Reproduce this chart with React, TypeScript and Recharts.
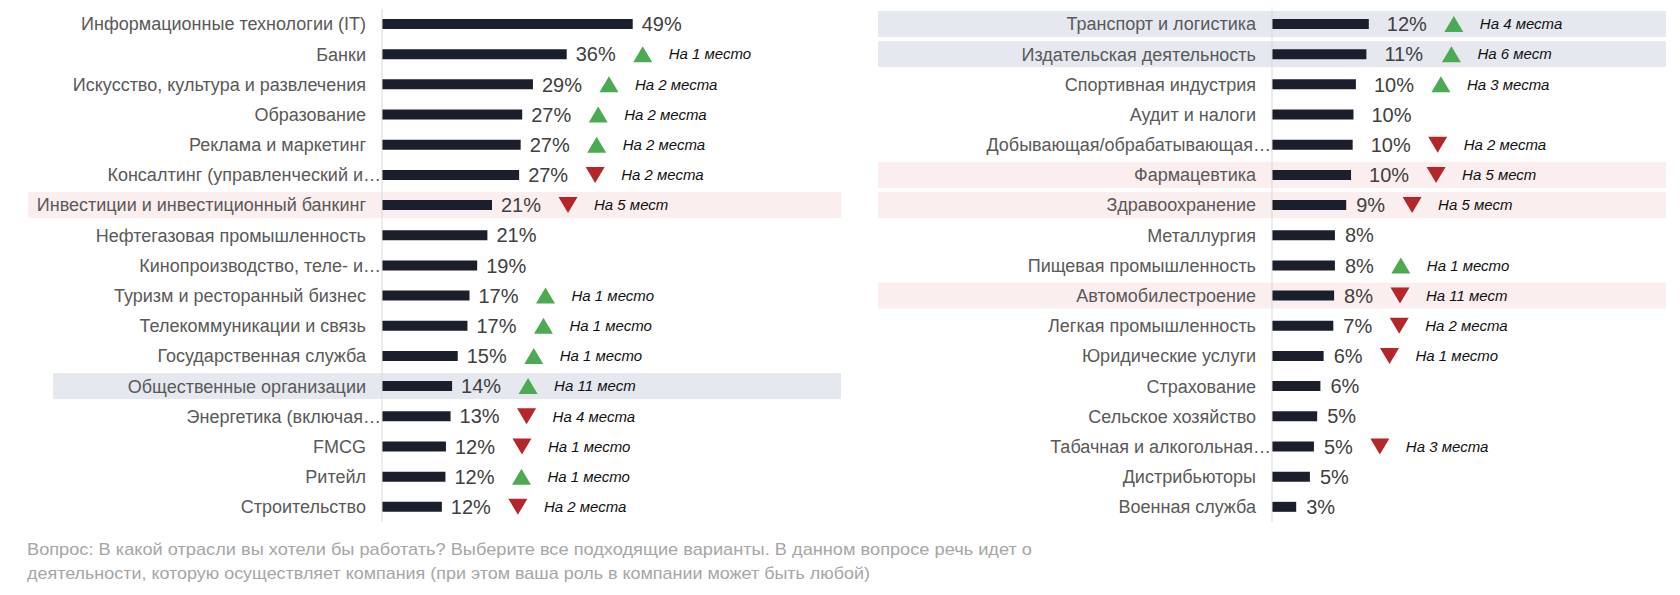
import { Bar, BarChart, LabelList, XAxis, YAxis } from "recharts";

// left column
const leftIndustries = [
  "Информационные технологии (IT)",
  "Банки",
  "Искусство, культура и развлечения",
  "Образование",
  "Реклама и маркетинг",
  "Консалтинг (управленческий и…",
  "Инвестиции и инвестиционный банкинг",
  "Нефтегазовая промышленность",
  "Кинопроизводство, теле- и…",
  "Туризм и ресторанный бизнес",
  "Телекоммуникации и связь",
  "Государственная служба",
  "Общественные организации",
  "Энергетика (включая…",
  "FMCG",
  "Ритейл",
  "Строительство",
];
const leftShares = [49, 36.1, 29.5, 27.4, 27.1, 26.8, 21.5, 20.6, 18.6, 17.1, 16.7, 14.8, 13.7, 13.4, 12.5, 12.4, 11.7];
const leftShown = [49, 36, 29, 27, 27, 27, 21, 21, 19, 17, 17, 15, 14, 13, 12, 12, 12];
const leftMoves = [0, 1, 2, 2, 2, -2, -5, 0, 0, 1, 1, 1, 11, -4, -1, 1, -2];
const leftHighlight = ["", "", "", "", "", "", "pink", "", "", "", "", "", "grey", "", "", "", ""];

// right column
const rightIndustries = [
  "Транспорт и логистика",
  "Издательская деятельность",
  "Спортивная индустрия",
  "Аудит и налоги",
  "Добывающая/обрабатывающая…",
  "Фармацевтика",
  "Здравоохранение",
  "Металлургия",
  "Пищевая промышленность",
  "Автомобилестроение",
  "Легкая промышленность",
  "Юридические услуги",
  "Страхование",
  "Сельское хозяйство",
  "Табачная и алкогольная…",
  "Дистрибьюторы",
  "Военная служба",
];
const rightShares = [12.0, 11.7, 10.4, 10.1, 10.0, 9.8, 9.2, 7.8, 7.8, 7.7, 7.6, 6.4, 6.0, 5.6, 5.2, 4.7, 3.0];
const rightShown = [12, 11, 10, 10, 10, 10, 9, 8, 8, 8, 7, 6, 6, 5, 5, 5, 3];
const rightMoves = [4, 6, 3, 0, -2, -5, -5, 0, 1, -11, -2, -1, 0, 0, -3, 0, 0];
const rightHighlight = ["grey", "grey", "", "", "", "pink", "pink", "", "", "pink", "", "", "", "", "", "", ""];

const footnote = [
  "Вопрос: В какой отрасли вы хотели бы работать? Выберите все подходящие варианты. В данном вопросе речь идет о",
  "деятельности, которую осуществляет компания (при этом ваша роль в компании может быть любой)",
];

const FONT = '"Liberation Sans", Arial, Helvetica, sans-serif';
const BAND_FILL: Record<string, string> = { pink: "#fbeeee", grey: "#e5e8ef" };

function placesText(n: number) {
  const a = Math.abs(n);
  const d = a % 10;
  const t = a % 100;
  let word = "мест";
  if (d === 1 && t !== 11) word = "место";
  else if (d >= 2 && d <= 4 && (t < 10 || t >= 20)) word = "места";
  return `На ${a} ${word}`;
}

type Panel = {
  names: string[];
  shares: number[];
  shown: number[];
  moves: number[];
  highlight: string[];
  width: number;
  axisWidth: number;
  plotWidth: number;
  domainMax: number;
  bandStart: Record<string, number>;
  bandEnd: number;
  wideGap: number;
  narrowGap: number;
};

function IndustryPanel({ p }: { p: Panel }) {
  const rows = p.names.map((name, i) => ({ name, share: p.shares[i], i }));

  const tick = (props: any) => {
    const label: string = props.payload.value;
    const cut = label.endsWith("…");
    return (
      <text
        x={cut ? p.axisWidth - 1 : p.axisWidth - 16}
        y={props.y}
        dy="0.35em"
        textAnchor="end"
        fontSize={18}
        fontFamily={FONT}
        fill="#595959"
      >
        {label}
      </text>
    );
  };

  const background = (props: any) => {
    const kind = p.highlight[props.index];
    if (!kind) return <g key={`bg-${props.index}`} />;
    const x0 = p.bandStart[kind];
    return (
      <rect
        key={`bg-${props.index}`}
        x={x0}
        y={props.y + (props.height - 26) / 2}
        width={p.bandEnd - x0}
        height={26}
        fill={BAND_FILL[kind]}
      />
    );
  };

  const annotation = (props: any) => {
    const i = Number(props.value);
    const cy = props.y + props.height / 2;
    const end = props.x + props.width;
    const shown = p.shown[i];
    const tx = end + (shown >= 10 ? p.wideGap : p.narrowGap);
    const tw = String(shown).length * 11.12 + 17.78;
    const move = p.moves[i];
    const cx = tx + tw + 27;
    return (
      <g key={`lab-${i}`}>
        <text x={tx} y={cy} dy="0.36em" fontSize={20} fontFamily={FONT} fill="#404040">
          {`${shown}%`}
        </text>
        {move !== 0 && (
          <>
            <polygon
              points={
                move > 0
                  ? `${cx - 9.5},${cy + 8} ${cx + 9.5},${cy + 8} ${cx},${cy - 8}`
                  : `${cx - 9.5},${cy - 8} ${cx + 9.5},${cy - 8} ${cx},${cy + 8}`
              }
              fill={move > 0 ? "#4cab52" : "#b3262a"}
            />
            <text
              x={cx + 26}
              y={cy}
              dy="0.35em"
              fontSize={15}
              fontStyle="italic"
              fontFamily={FONT}
              fill="#111"
            >
              {placesText(move)}
            </text>
          </>
        )}
      </g>
    );
  };

  return (
    <BarChart
      width={p.width}
      height={526}
      data={rows}
      layout="vertical"
      barCategoryGap={0}
      margin={{ top: 9, right: p.width - p.axisWidth - p.plotWidth, bottom: 4, left: 0 }}
    >
      <XAxis type="number" domain={[0, p.domainMax]} hide />
      <YAxis
        type="category"
        dataKey="name"
        width={p.axisWidth}
        interval={0}
        tickLine={false}
        axisLine={{ stroke: "#d9d9d9" }}
        tick={tick}
      />
      <Bar dataKey="share" barSize={10} fill="#1b1f2b" background={background} isAnimationActive={false}>
        <LabelList dataKey="i" content={annotation} />
      </Bar>
    </BarChart>
  );
}

const leftPanel: Panel = {
  names: leftIndustries,
  shares: leftShares,
  shown: leftShown,
  moves: leftMoves,
  highlight: leftHighlight,
  width: 860,
  axisWidth: 382,
  plotWidth: 307,
  domainMax: 60,
  bandStart: { pink: 28, grey: 53 },
  bandEnd: 841,
  wideGap: 9,
  narrowGap: 9,
};

const rightPanel: Panel = {
  names: rightIndustries,
  shares: rightShares,
  shown: rightShown,
  moves: rightMoves,
  highlight: rightHighlight,
  width: 820,
  axisWidth: 412,
  plotWidth: 242,
  domainMax: 30,
  bandStart: { pink: 18, grey: 18 },
  bandEnd: 806,
  wideGap: 18,
  narrowGap: 10,
};

export default function App() {
  return (
    <div style={{ position: "relative", width: 1680, height: 595, background: "#fff", overflow: "hidden" }}>
      <style>{"body{margin:0}"}</style>
      <div style={{ position: "absolute", left: 0, top: 0 }}>
        <IndustryPanel p={leftPanel} />
      </div>
      <div style={{ position: "absolute", left: 860, top: 0 }}>
        <IndustryPanel p={rightPanel} />
      </div>
      <svg width={1680} height={595} style={{ position: "absolute", left: 0, top: 0, pointerEvents: "none" }}>
        {footnote.map((line, k) => (
          <text
            key={k}
            x={27}
            y={555 + k * 24}
            fontSize={17}
            fontFamily={FONT}
            fill="#a6a6a6"
            textLength={k === 0 ? 1005 : 843}
            lengthAdjust="spacingAndGlyphs"
          >
            {line}
          </text>
        ))}
      </svg>
    </div>
  );
}
